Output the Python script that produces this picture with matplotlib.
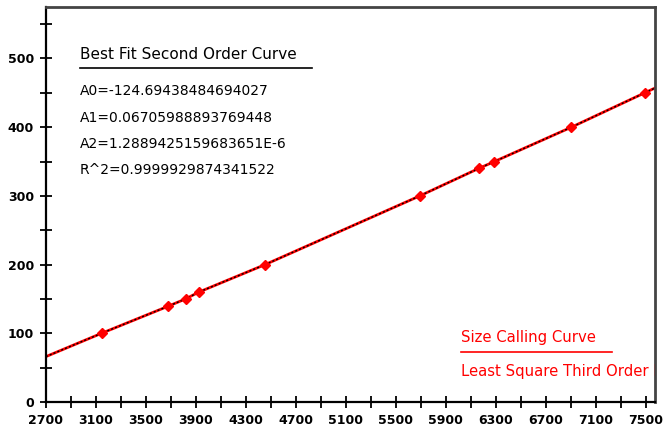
import numpy as np
import matplotlib
matplotlib.use("Agg")
import matplotlib.pyplot as plt
from matplotlib.ticker import MultipleLocator, FixedLocator

# size standard peaks: scan position vs fragment size (bp)
scan_pos = [3146, 3674, 3818, 3925, 4455, 5693, 6165, 6290, 6906, 7493]
size_bp = [100, 139, 150, 160, 200, 300, 340, 350, 400, 450]

# fitted curve (edges + peaks)
curve_x = [2700] + scan_pos + [7575]
curve_y = [66] + size_bp + [457]

fit_title = "Best Fit Second Order Curve"
fit_lines = ["A0=-124.69438484694027",
             "A1=0.06705988893769448",
             "A2=1.2889425159683651E-6",
             "R^2=0.9999929874341522"]

x_labels = list(range(2700, 7501, 400))
x_minor = list(range(2900, 7500, 400))

fig = plt.figure(figsize=(6.64, 4.33), dpi=100)
ax = fig.add_axes([0.069, 0.0716, 0.9175, 0.9124])

ax.plot(curve_x, curve_y, color="red", lw=2.0, zorder=2)
ax.plot(curve_x, curve_y, color="black", lw=1.0, ls=(0, (1.5, 1.5)), zorder=3)
ax.plot(scan_pos, size_bp, "D", color="red", ms=5, mec="red", zorder=4)

ax.set_xlim(2700, 7575)
ax.set_ylim(0, 575)

ax.xaxis.set_major_locator(FixedLocator(x_labels))
ax.xaxis.set_minor_locator(FixedLocator(x_minor))
ax.yaxis.set_major_locator(MultipleLocator(100))
ax.yaxis.set_minor_locator(MultipleLocator(50))
ax.tick_params(which="both", direction="inout", length=9, width=1.3, color="black")
ax.tick_params(labelsize=9, pad=4)
for lab in ax.get_xticklabels() + ax.get_yticklabels():
    lab.set_fontweight("bold")
    lab.set_family("DejaVu Sans")

for side in ["left", "bottom"]:
    ax.spines[side].set_linewidth(1.6)
    ax.spines[side].set_color("black")
for side in ["top", "right"]:
    ax.spines[side].set_linewidth(2)
    ax.spines[side].set_color("#444444")

tf = ax.transAxes
ax.text(0.056, 0.879, fit_title, transform=tf, fontsize=11, va="center", family="DejaVu Sans")
ax.plot([0.056, 0.437], [0.846, 0.846], transform=tf, color="black", lw=1.2, clip_on=False)
for i, t in enumerate(fit_lines):
    ax.text(0.056, 0.786 - i * 0.066, t, transform=tf, fontsize=10, va="center", family="DejaVu Sans")

ax.text(0.681, 0.162, "Size Calling Curve", transform=tf, fontsize=10.7, color="red", va="center",
        family="DejaVu Sans")
ax.plot([0.681, 0.929], [0.127, 0.127], transform=tf, color="red", lw=1.2)
# the reference cuts this label off at the right frame
ax.text(0.681, 0.076, "Least Square Third Order Fit", transform=tf, fontsize=10.7, color="red",
        va="center", family="DejaVu Sans", clip_on=True)

fig.savefig("out.png", dpi=100)
